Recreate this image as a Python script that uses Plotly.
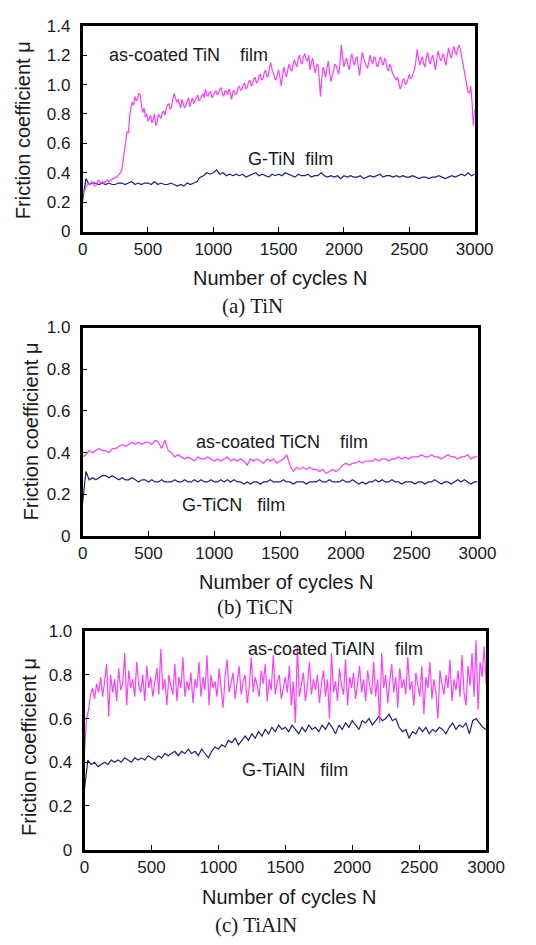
import plotly.graph_objects as go

# page size and the default 8px body margin of the html page
PAGE_W, PAGE_H = 536, 945
BODY = 8
W, H = PAGE_W - 2 * BODY, PAGE_H - 2 * BODY

# ---------------- data ----------------
# (a) TiN : as-coated film, sampled every 10 cycles
tin_coated_step = 10
tin_coated = [
    0.25, 0.27, 0.29, 0.31, 0.33, 0.32, 0.32, 0.34, 0.33, 0.31,
    0.31, 0.33, 0.35, 0.34, 0.33, 0.34, 0.33, 0.34, 0.34, 0.35,
    0.34, 0.35, 0.35, 0.36, 0.36, 0.37, 0.37, 0.38, 0.39, 0.40,
    0.42, 0.48, 0.56, 0.63, 0.68, 0.67, 0.79, 0.84, 0.88, 0.86,
    0.92, 0.89, 0.90, 0.94, 0.93, 0.86, 0.81, 0.84, 0.78, 0.80,
    0.75, 0.77, 0.79, 0.74, 0.76, 0.80, 0.72, 0.75, 0.80, 0.78,
    0.77, 0.81, 0.82, 0.79, 0.84, 0.86, 0.87, 0.83, 0.85, 0.90,
    0.94, 0.91, 0.88, 0.90, 0.86, 0.84, 0.90, 0.87, 0.84, 0.86,
    0.88, 0.91, 0.85, 0.88, 0.91, 0.87, 0.89, 0.92, 0.93, 0.89,
    0.90, 0.92, 0.94, 0.91, 0.97, 0.93, 0.92, 0.95, 0.95, 0.91,
    0.93, 0.95, 0.96, 0.93, 0.94, 0.97, 0.98, 0.94, 0.92, 0.96,
    0.95, 0.93, 0.97, 0.94, 0.90, 0.95, 0.96, 0.93, 0.94, 0.98,
    0.99, 0.96, 0.97, 1.00, 1.01, 0.97, 0.98, 1.02, 1.03, 0.99,
    1.00, 1.04, 1.05, 1.01, 1.02, 1.06, 1.07, 1.03, 1.04, 1.08,
    1.10, 1.05, 1.06, 1.12, 1.15, 1.10, 1.08, 1.04, 1.03, 1.07,
    1.10, 1.05, 0.99, 1.06, 1.12, 1.08, 1.05, 1.10, 1.14, 1.11,
    1.09, 1.13, 1.17, 1.14, 1.12, 1.18, 1.20, 1.15, 1.14, 1.19,
    1.21, 1.17, 1.16, 1.20, 1.10, 1.15, 1.18, 1.12, 1.08, 1.13,
    1.14, 1.05, 0.92, 1.04, 1.12, 1.09, 1.05, 1.11, 1.16, 1.08,
    1.02, 1.06, 1.09, 1.14, 1.13, 1.10, 1.07, 1.15, 1.27, 1.18,
    1.12, 1.16, 1.18, 1.13, 1.10, 1.17, 1.21, 1.16, 1.13, 1.18,
    1.19, 1.12, 1.06, 1.15, 1.22, 1.18, 1.15, 1.13, 1.11, 1.17,
    1.20, 1.16, 1.14, 1.19, 1.18, 1.13, 1.12, 1.17, 1.19, 1.15,
    1.13, 1.18, 1.16, 1.11, 1.09, 1.14, 1.12, 1.08, 1.06, 1.05,
    1.03, 1.05, 1.00, 0.97, 0.99, 1.03, 1.04, 1.00, 1.01, 1.05,
    1.07, 1.04, 1.05, 1.08, 1.10, 1.16, 1.24, 1.18, 1.13, 1.17,
    1.19, 1.14, 1.12, 1.18, 1.22, 1.17, 1.14, 1.18, 1.20, 1.15,
    1.10, 1.17, 1.23, 1.19, 1.16, 1.18, 1.21, 1.17, 1.13, 1.19,
    1.25, 1.21, 1.18, 1.22, 1.26, 1.23, 1.20, 1.24, 1.27, 1.24,
    1.19, 1.15, 1.10, 1.04, 0.99, 0.95, 0.94, 0.99, 0.88, 0.72,
    0.83,
]
# (a) TiN : G-TiN film, sampled every 25 cycles
tin_g_step = 25
tin_g = [
    0.21, 0.36, 0.32, 0.33, 0.33, 0.32, 0.33, 0.32, 0.33, 0.32,
    0.32, 0.33, 0.33, 0.32, 0.33, 0.34, 0.32, 0.33, 0.32, 0.33,
    0.33, 0.32, 0.34, 0.32, 0.33, 0.32, 0.32, 0.33, 0.32, 0.31,
    0.32, 0.31, 0.33, 0.32, 0.33, 0.34, 0.37, 0.38, 0.40, 0.39,
    0.40, 0.42, 0.39, 0.40, 0.38, 0.39, 0.38, 0.39, 0.38, 0.39,
    0.37, 0.38, 0.39, 0.40, 0.38, 0.39, 0.38, 0.37, 0.39, 0.38,
    0.39, 0.38, 0.40, 0.39, 0.38, 0.37, 0.39, 0.38, 0.38, 0.39,
    0.37, 0.38, 0.38, 0.40, 0.38, 0.37, 0.38, 0.37, 0.38, 0.36,
    0.38, 0.37, 0.38, 0.37, 0.37, 0.38, 0.36, 0.37, 0.38, 0.37,
    0.38, 0.39, 0.37, 0.38, 0.38, 0.37, 0.38, 0.37, 0.38, 0.37,
    0.37, 0.38, 0.37, 0.36, 0.37, 0.37, 0.36, 0.37, 0.37, 0.38,
    0.37, 0.36, 0.37, 0.38, 0.37, 0.38, 0.39, 0.38, 0.40, 0.38,
    0.39,
]
# (b) TiCN : as-coated film, every 25 cycles
ticn_coated_step = 25
ticn_coated = [
    0.38, 0.39, 0.41, 0.40, 0.41, 0.42, 0.41, 0.41, 0.40, 0.42,
    0.42, 0.43, 0.44, 0.43, 0.44, 0.45, 0.44, 0.45, 0.44, 0.45,
    0.45, 0.44, 0.46, 0.45, 0.42, 0.46, 0.41, 0.40, 0.38, 0.39,
    0.38, 0.37, 0.38, 0.37, 0.36, 0.38, 0.37, 0.37, 0.38, 0.37,
    0.36, 0.37, 0.36, 0.37, 0.38, 0.36, 0.37, 0.36, 0.37, 0.36,
    0.34, 0.37, 0.36, 0.37, 0.36, 0.35, 0.37, 0.36, 0.37, 0.35,
    0.36, 0.37, 0.39, 0.34, 0.31, 0.33, 0.32, 0.33, 0.32, 0.33,
    0.32, 0.32, 0.31, 0.32, 0.30, 0.31, 0.32, 0.31, 0.32, 0.34,
    0.35, 0.34, 0.35, 0.35, 0.36, 0.35, 0.36, 0.36, 0.36, 0.37,
    0.36, 0.37, 0.37, 0.36, 0.37, 0.37, 0.38, 0.37, 0.38, 0.37,
    0.38, 0.38, 0.38, 0.39, 0.38, 0.38, 0.39, 0.38, 0.38, 0.37,
    0.38, 0.39, 0.38, 0.38, 0.37, 0.38, 0.38, 0.39, 0.37, 0.38,
    0.38,
]
# (b) TiCN : G-TiCN film, every 25 cycles
ticn_g_step = 25
ticn_g = [
    0.16, 0.31, 0.27, 0.28, 0.27, 0.28, 0.29, 0.29, 0.28, 0.29,
    0.28, 0.27, 0.28, 0.27, 0.27, 0.28, 0.27, 0.26, 0.27, 0.27,
    0.26, 0.27, 0.26, 0.26, 0.27, 0.26, 0.26, 0.26, 0.27, 0.26,
    0.26, 0.27, 0.26, 0.26, 0.27, 0.26, 0.27, 0.26, 0.26, 0.27,
    0.26, 0.26, 0.27, 0.26, 0.27, 0.26, 0.27, 0.26, 0.26, 0.25,
    0.26, 0.25, 0.26, 0.26, 0.25, 0.26, 0.26, 0.27, 0.26, 0.26,
    0.26, 0.27, 0.26, 0.26, 0.25, 0.26, 0.26, 0.26, 0.25, 0.26,
    0.26, 0.26, 0.27, 0.26, 0.26, 0.27, 0.26, 0.26, 0.26, 0.27,
    0.26, 0.26, 0.27, 0.26, 0.25, 0.26, 0.25, 0.26, 0.26, 0.27,
    0.26, 0.27, 0.26, 0.26, 0.27, 0.26, 0.26, 0.25, 0.26, 0.26,
    0.26, 0.25, 0.26, 0.26, 0.25, 0.26, 0.26, 0.27, 0.26, 0.25,
    0.26, 0.26, 0.25, 0.26, 0.27, 0.26, 0.27, 0.26, 0.25, 0.26,
    0.26,
]
# (c) TiAlN : as-coated film, every 15 cycles
tialn_coated_step = 15
tialn_coated = [
    0.45, 0.60, 0.64, 0.71, 0.74, 0.69, 0.76, 0.72, 0.79, 0.70,
    0.77, 0.85, 0.61, 0.80, 0.72, 0.78, 0.68, 0.83, 0.73, 0.76,
    0.90, 0.66, 0.82, 0.74, 0.78, 0.70, 0.86, 0.75, 0.72, 0.80,
    0.68, 0.84, 0.74, 0.79, 0.70, 0.76, 0.83, 0.71, 0.92, 0.73,
    0.78, 0.66, 0.80, 0.75, 0.71, 0.85, 0.68, 0.79, 0.74, 0.88,
    0.70, 0.77, 0.73, 0.81, 0.67, 0.78, 0.74, 0.86, 0.70, 0.79,
    0.73, 0.89, 0.66, 0.80, 0.74, 0.77, 0.70, 0.83, 0.75, 0.65,
    0.79, 0.87, 0.72, 0.76, 0.81, 0.69, 0.78, 0.84, 0.71, 0.77,
    0.80, 0.67, 0.74, 0.88, 0.72, 0.79, 0.75, 0.70, 0.82, 0.76,
    0.85, 0.68, 0.78, 0.73, 0.89, 0.71, 0.77, 0.80, 0.69, 0.75,
    0.79, 0.72, 0.84, 0.66, 0.77, 0.58, 0.93, 0.70, 0.76, 0.81,
    0.68, 0.75, 0.86, 0.71, 0.78, 0.73, 0.80, 0.67, 0.76, 0.82,
    0.70, 0.78, 0.60, 0.90, 0.72, 0.77, 0.68, 0.83, 0.75, 0.71,
    0.87, 0.66, 0.79, 0.74, 0.81, 0.69, 0.76, 0.84, 0.72, 0.78,
    0.68, 0.82, 0.75, 0.71, 0.86, 0.70, 0.78, 0.58, 0.90, 0.74,
    0.80, 0.67, 0.77, 0.85, 0.72, 0.79, 0.65, 0.83, 0.74, 0.78,
    0.71, 0.88, 0.73, 0.77, 0.66, 0.81, 0.75, 0.70, 0.84, 0.62,
    0.79, 0.74, 0.86, 0.69, 0.78, 0.72, 0.60, 0.82, 0.76, 0.71,
    0.80, 0.74, 0.87, 0.68, 0.78, 0.73, 0.82, 0.70, 0.89, 0.72,
    0.66, 0.84, 0.75, 0.90, 0.70, 0.96, 0.64, 0.86, 0.79, 0.93,
    0.76,
]
# (c) TiAlN : G-TiAlN film, every 25 cycles
tialn_g_step = 25
tialn_g = [
    0.28, 0.41, 0.39, 0.40, 0.38, 0.39, 0.40, 0.39, 0.41, 0.40,
    0.41, 0.40, 0.42, 0.41, 0.40, 0.42, 0.41, 0.42, 0.41, 0.43,
    0.42, 0.41, 0.43, 0.42, 0.44, 0.43, 0.44, 0.45, 0.43, 0.45,
    0.44, 0.46, 0.44, 0.45, 0.43, 0.46, 0.44, 0.42, 0.45, 0.47,
    0.46, 0.48, 0.47, 0.50, 0.49, 0.51, 0.48, 0.50, 0.52, 0.50,
    0.53, 0.51, 0.54, 0.52, 0.55, 0.53, 0.56, 0.54, 0.57, 0.55,
    0.56, 0.54, 0.57, 0.55, 0.53, 0.56, 0.54, 0.57, 0.55, 0.56,
    0.54, 0.57, 0.55, 0.58, 0.56, 0.53, 0.57, 0.55, 0.58, 0.56,
    0.59, 0.57, 0.55, 0.59, 0.58, 0.60, 0.57, 0.59, 0.61, 0.59,
    0.60, 0.62, 0.59, 0.60, 0.56, 0.54, 0.55, 0.51, 0.54, 0.53,
    0.56, 0.54, 0.56, 0.53, 0.55, 0.54, 0.56, 0.55, 0.53, 0.56,
    0.58, 0.55, 0.57, 0.56, 0.58, 0.53, 0.59, 0.60, 0.58, 0.56,
    0.55,
]

x_ticks = [0, 500, 1000, 1500, 2000, 2500, 3000]
y_ticks_a = [0, 0.2, 0.4, 0.6, 0.8, 1.0, 1.2, 1.4]
y_ticks_bc = [0, 0.2, 0.4, 0.6, 0.8, 1.0]
y_text_a = ["0", "0.2", "0.4", "0.6", "0.8", "1.0", "1.2", "1.4"]
y_text_bc = ["0", "0.2", "0.4", "0.6", "0.8", "1.0"]

NB = "\u00a0"
panels = [
    dict(coated=(tin_coated, tin_coated_step), g=(tin_g, tin_g_step),
         ymax=1.4, yt=y_ticks_a, ytt=y_text_a,
         labels=["as-coated TiN" + NB * 4 + "film", "G-TiN" + NB * 2 + "film"],
         caption="(a) TiN"),
    dict(coated=(ticn_coated, ticn_coated_step), g=(ticn_g, ticn_g_step),
         ymax=1.0, yt=y_ticks_bc, ytt=y_text_bc,
         labels=["as-coated TiCN" + NB * 4 + "film", "G-TiCN" + NB * 3 + "film"],
         caption="(b) TiCN"),
    dict(coated=(tialn_coated, tialn_coated_step), g=(tialn_g, tialn_g_step),
         ymax=1.0, yt=y_ticks_bc, ytt=y_text_bc,
         labels=["as-coated TiAlN" + NB * 4 + "film", "G-TiAlN" + NB * 3 + "film"],
         caption="(c) TiAlN"),
]

# ---------------- layout geometry (page pixels) ----------------
frames = [  # left, right, top, bottom (inner edge of the frame line)
    (81, 492, 17, 227),
    (81, 495, 325, 538),
    (83, 504, 635, 858),
]
label_pos = [  # (x, cap-centre y) of the two in-plot labels
    [(192, 46), (299, 152)],
    [(290, 441), (239, 505)],
    [(346, 652), (304, 776)],
]
xtitle_pos = [(288, 273), (295, 584), (298, 905)]
ytitle_pos = [(18, 124), (27, 431), (25, 753)]
caption_pos = [(259, 303), (262, 610), (263, 935)]

PINK = "#ff3cff"
NAVY = "#1f1f80"
SANS = "Liberation Sans, Arial, sans-serif"
SERIF = "Liberation Serif, Times New Roman, serif"


def px_x(x):
    return (x - BODY) / W


def px_y(y):
    return 1 - (y - BODY) / H


fig = go.Figure()
layout = dict(width=W, height=H, margin=dict(l=0, r=0, t=0, b=0),
              paper_bgcolor="white", plot_bgcolor="white", showlegend=False)
annotations = []

for i, p in enumerate(panels):
    n = "" if i == 0 else str(i + 1)
    for (vals, step), col in ((p["g"], NAVY), (p["coated"], PINK)):
        cycles = [k * step for k in range(len(vals))]
        fig.add_trace(go.Scatter(x=cycles, y=vals, mode="lines",
                                 line=dict(color=col, width=1.2),
                                 xaxis="x" + n, yaxis="y" + n,
                                 hoverinfo="skip"))
    l, r, t, b = frames[i]
    common = dict(showline=True, linewidth=2.6, linecolor="black", mirror=True,
                  showgrid=False, zeroline=False, ticks="inside", ticklen=5,
                  tickwidth=1.3, tickcolor="black",
                  tickfont=dict(family=SANS, size=17, color="#1a1a1a"))
    layout["xaxis" + n] = dict(common, domain=[px_x(l), px_x(r)], range=[0, 3000],
                               anchor="y" + n, tickvals=x_ticks,
                               ticklabelstandoff=0)
    layout["yaxis" + n] = dict(common, domain=[px_y(b), px_y(t)], range=[0, p["ymax"]],
                               anchor="x" + n, tickvals=p["yt"], ticktext=p["ytt"],
                               ticklabelstandoff=6)
    for txt, (x, y) in zip(p["labels"], label_pos[i]):
        annotations.append(dict(text=txt, x=px_x(x), y=px_y(y + 1), xref="paper", yref="paper",
                                showarrow=False, xanchor="center", yanchor="middle",
                                font=dict(family=SANS, size=18, color="#1a1a1a")))
    x, y = xtitle_pos[i]
    annotations.append(dict(text="Number of cycles N", x=px_x(x), y=px_y(y + 1),
                            xref="paper", yref="paper", showarrow=False,
                            xanchor="center", yanchor="middle",
                            font=dict(family=SANS, size=20, color="#1a1a1a")))
    x, y = ytitle_pos[i]
    annotations.append(dict(text="Friction coefficient \u03bc", x=px_x(x), y=px_y(y),
                            xref="paper", yref="paper", showarrow=False, textangle=-90,
                            xanchor="center", yanchor="middle",
                            font=dict(family=SANS, size=20, color="#1a1a1a")))
    x, y = caption_pos[i]
    annotations.append(dict(text=p["caption"], x=px_x(x), y=px_y(y),
                            xref="paper", yref="paper", showarrow=False,
                            xanchor="center", yanchor="middle",
                            font=dict(family=SERIF, size=21, color="#1a1a1a")))

layout["annotations"] = annotations
fig.update_layout(**layout)
fig.write_html("out.html")
